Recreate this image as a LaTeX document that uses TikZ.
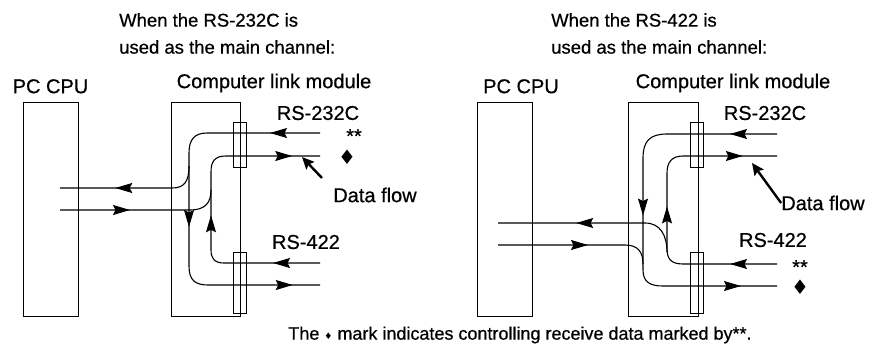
\documentclass[tikz,border=0pt]{standalone}
\usepackage{fontspec}
\setmainfont{Liberation Sans}[FakeBold=0.6]
\newfontfamily\symfont{DejaVu Sans}
\usetikzlibrary{arrows.meta, positioning, decorations.markings}
\tikzset{
  unit/.style={
    rectangle, draw, line width=0.8pt, inner sep=0pt,
    minimum width=55pt, minimum height=214pt
  },
  port/.style={
    rectangle, draw, line width=0.8pt, inner sep=0pt,
    minimum width=13pt, minimum height=45pt
  },
  wire/.style={line width=1.1pt},
  flow at/.style={postaction={decorate, decoration={markings,
    mark=at position #1 with {\arrow{Stealth[length=17pt,width=10pt,inset=2.5pt]}}}}},
  pointer/.style={line width=2.4pt, -{Stealth[length=12pt,width=11pt,inset=2pt]}},
  heading/.style={align=left, inner sep=0pt, font=\fontsize{18.5}{27}\selectfont},
  tag/.style={inner sep=0pt, font=\fontsize{20}{24}\selectfont},
  sign/.style={inner sep=0pt, font=\symfont\fontsize{20}{20}\selectfont},
}

\begin{document}
\begin{tikzpicture}[x=1pt, y=-1pt]
  \useasboundingbox (0,0) rectangle (877,351);

  % RS-232C as main channel
  \node (headA) [heading, anchor=north west] at (119,13) {When the RS-232C is\\used as the main channel:};
  \node (cpuA)  [unit]                          at (50.5,209)  {};
  \node (linkA) [unit, minimum width=69pt]      at (205.5,209) {};
  \node (p232A) [port]                          at (239.5,145) {};
  \node (p422A) [port, minimum height=61pt]     at (239.5,282.5) {};
  \node (cpuAlbl)  [tag, above=8pt of cpuA]     {PC CPU};
  \node (linkAlbl) [tag] at (274,83)            {Computer link module};
  \node (p232Albl) [tag] at (318,113)           {RS-232C};
  \node (p422Albl) [tag] at (306,242)           {RS-422};
  \node (ackA)     [tag] at (354,136)           {**};
  \node (ctlA)     [sign] at (347,157)          {♦};
  \node (flowA)    [tag] at (375,195)           {Data flow};

  \coordinate (rx232A)  at (320,133);
  \coordinate (tx232A)  at (320,156);
  \coordinate (rx422A)  at (320,263);
  \coordinate (tx422A)  at (320,285);
  \coordinate (cpuinA)  at (60,188);
  \coordinate (cpuoutA) at (60,210);
  \coordinate (flowAtail) at (322,178);
  \coordinate (flowAtip)  at (302,157);

  \draw [wire, flow at=50pt, flow at=218pt, flow at=373pt]
    (rx232A) -- (207,133) .. controls (194,133) and (189,140) .. (189,153)
    -- (189,266) .. controls (189,280) and (195,285) .. (208,285) -- (tx422A);
  \draw [wire, flow at=89pt]
    (189,166) .. controls (189,182) and (184,188) .. (172,188) -- (cpuinA);
  \draw [wire, flow at=47pt, flow at=152pt, flow at=287pt]
    (rx422A) -- (224,263) .. controls (214,263) and (211,258) .. (211,250)
    -- (211,172) .. controls (211,161) and (215,156) .. (226,156) -- (tx232A);
  \draw [wire, flow at=70pt]
    (cpuoutA) -- (190,210) .. controls (205,210) and (211,203) .. (211,190);
  \draw [pointer] (flowAtail) -- (flowAtip);

  % RS-422 as main channel
  \node (headB) [heading, anchor=north west] at (551,13) {When the RS-422 is\\used as the main channel:};
  \node (cpuB)  [unit]                          at (505,209)   {};
  \node (linkB) [unit, minimum width=70pt]      at (663,209)   {};
  \node (p232B) [port]                          at (696.5,145) {};
  \node (p422B) [port, minimum height=61pt]     at (696.5,282.5) {};
  \node (cpuBlbl)  [tag, above=8pt of cpuB, xshift=16pt] {PC CPU};
  \node (linkBlbl) [tag] at (733,83)            {Computer link module};
  \node (p232Blbl) [tag] at (765,113)           {RS-232C};
  \node (p422Blbl) [tag] at (773,240)           {RS-422};
  \node (ackB)     [tag] at (800,267)           {**};
  \node (ctlB)     [sign] at (800,287)          {♦};
  \node (flowB)    [tag] at (823,203)           {Data flow};

  \coordinate (rx232B)  at (777,134);
  \coordinate (tx232B)  at (777,156);
  \coordinate (rx422B)  at (777,264);
  \coordinate (tx422B)  at (777,286);
  \coordinate (cpuinB)  at (498,223);
  \coordinate (cpuoutB) at (498,245);
  \coordinate (flowBtip) at (752,163);

  \draw [wire, flow at=47pt, flow at=207pt, flow at=369pt]
    (rx232B) -- (667,134) .. controls (650,134) and (643,141) .. (643,158)
    -- (643,270) .. controls (643,282) and (650,286) .. (663,286) -- (tx422B);
  \draw [wire, flow at=90pt]
    (cpuoutB) -- (625,245) .. controls (638,245) and (643,252) .. (643,264);
  \draw [wire, flow at=47pt, flow at=162pt, flow at=282pt]
    (rx422B) -- (683,264) .. controls (670,264) and (667,258) .. (667,248)
    -- (667,173) .. controls (667,162) and (672,156) .. (683,156) -- (tx232B);
  \draw [wire, flow at=110pt]
    (667,252) .. controls (667,235) and (660,223) .. (645,223) -- (cpuinB);
  \draw [pointer] (flowB.west) -- (flowBtip);

  % footnote
  \node (note) [tag, font=\fontsize{18}{22}\selectfont] at (520,335)
    {The {\symfont\fontsize{9}{9}\selectfont ♦} mark indicates controlling receive data marked by**.};
\end{tikzpicture}
\end{document}
